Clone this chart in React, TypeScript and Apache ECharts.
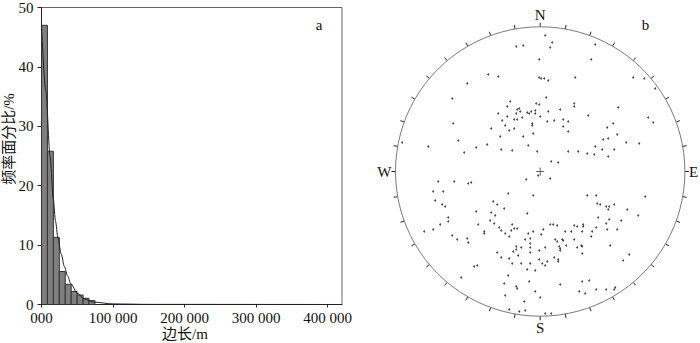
import React, { useEffect, useRef } from 'react';
import * as echarts from 'echarts';

// ---------- data: histogram of side length (a) ----------
const binEdges = [0, 8300, 16600, 24900, 33200, 41500, 49800, 58100, 66400, 74700];
const binPercent = [47.0, 25.8, 11.3, 5.55, 3.4, 2.2, 1.6, 1.05, 0.65];
const fitLength = [0, 6000, 12000, 16500, 19600, 23000, 27500, 32000, 36500, 41000, 50000, 60000, 73000, 100000, 150000, 420000];
const fitPercent = [47, 36, 25, 17.7, 14, 11.2, 8.5, 6.4, 4.8, 3.5, 1.9, 0.9, 0.4, 0.1, 0.02, 0];
const xTicks = [0, 100000, 200000, 300000, 400000];
const yTicks = [0, 10, 20, 30, 40, 50];

// ---------- data: stereonet poles (b), east / north units, net radius 144.7 ----------
const polesNW = [
  [-24, 125], [-17, 126], [-52, 97], [-42, 95], [-73, 88], [-88, 73], [-30, 70], [-4, 68], [-33, 65], [-23, 62],
  [-21, 63], [-20, 60], [-13, 59], [-11, 58], [-9, 60], [-5, 61], [-5, 58], [-42, 58], [-24, 58], [-33, 55],
  [-18, 54], [-26, 52], [-23, 52], [-38, 51], [-87, 48], [-8, 48], [-8, 46], [-35, 46], [-49, 43], [-26, 43],
  [-31, 41], [-7, 38], [-40, 35], [-17, 35], [-82, 31], [-138, 29], [-112, 25], [-53, 27], [-64, 24], [-12, 26],
  [-39, 22], [-28, 21], [-76, 19], [-3, 20],
];
const polesNE = [
  [5, 136], [12, 129], [10, 124], [55, 127], [-1, 112], [51, 112], [-1, 94], [1, 93], [4, 93], [8, 91],
  [35, 94], [93, 94], [104, 93], [115, 83], [6, 74], [-1, 67], [34, 68], [34, 65], [78, 64], [20, 62],
  [8, 60], [0, 55], [48, 56], [108, 54], [7, 50], [14, 51], [23, 52], [28, 50], [113, 49], [23, 45],
  [73, 48], [67, 44], [28, 40], [77, 37], [68, 33], [63, 32], [86, 29], [99, 28], [55, 25], [28, 20],
  [38, 20], [62, 22], [74, 22], [47, 18], [54, 17], [68, 15], [11, 10], [18, 9],
];
const polesSW = [
  [-102, -10], [-86, -10], [-72, -12], [-69, -11], [-14, -8], [-2, -4], [-107, -20], [-97, -20], [-32, -22], [-7, -24],
  [-105, -29], [-47, -30], [-43, -33], [-98, -33], [-95, -35], [-36, -37], [-64, -40], [-49, -41], [-13, -42], [-45, -44],
  [-92, -46], [-92, -50], [-50, -49], [-100, -53], [-62, -53], [-46, -52], [-28, -53], [-41, -56], [-39, -59], [-29, -59],
  [-26, -57], [-23, -57], [-107, -58], [-116, -60], [-56, -60], [-56, -62], [-35, -62], [-7, -60], [-12, -62], [-88, -64],
  [-31, -65], [-83, -68], [-73, -67], [-72, -71], [-15, -68], [-10, -67], [-10, -72], [-24, -75], [-24, -78], [-19, -76],
  [-10, -76], [-27, -80], [-10, -81], [-43, -81], [-39, -86], [-31, -87], [-22, -84], [-28, -92], [-19, -92], [-10, -92],
  [-66, -95], [-63, -94], [-13, -98], [-5, -99], [-32, -104], [-79, -106], [-11, -110], [-36, -112], [-24, -115], [-23, -117],
  [-5, -120], [-35, -124], [-16, -130], [-31, -138], [-21, -140], [-15, -139],
];
const polesSE = [
  [10, -7], [47, -24], [56, -24], [105, -25], [57, -32], [60, -33], [66, -35], [69, -35], [68, -38], [74, -33],
  [87, -38], [98, -44], [58, -46], [69, -48], [66, -52], [81, -49], [10, -53], [13, -53], [17, -54], [34, -54],
  [37, -55], [43, -53], [43, -55], [3, -58], [56, -56], [25, -60], [31, -60], [42, -60], [52, -60], [67, -58],
  [77, -58], [1, -63], [51, -65], [15, -68], [17, -70], [22, -68], [23, -69], [34, -68], [-1, -79], [5, -76],
  [19, -75], [20, -77], [20, -79], [26, -74], [37, -76], [41, -74], [42, -75], [70, -74], [42, -82], [-1, -88],
  [14, -86], [18, -88], [18, -90], [7, -90], [2, -92], [5, -94], [83, -89], [89, -83], [42, -110], [49, -109],
  [20, -113], [39, -120], [45, -122], [56, -118], [66, -118], [75, -116], [74, -118], [0, -126], [5, -142], [11, -142],
];
const netCentre = [[0, 0]];
const compassLabels: Record<number, string> = { 0: 'N', 90: 'E', 180: 'S', 270: 'W' };

const SERIF = '"Liberation Serif", "Times New Roman", "Noto Sans CJK SC", serif';

export default function App() {
  const ref = useRef<HTMLDivElement>(null);

  useEffect(() => {
    const chart = echarts.init(ref.current!, null, { renderer: 'svg' });
    const bars = binPercent.map((v, i) => [binEdges[i], binEdges[i + 1], v]);
    const fit = fitLength.map((x, i) => [x, fitPercent[i]]);
    const poles = [...polesNW, ...polesNE, ...polesSW, ...polesSE];

    chart.setOption({
      animation: false,
      textStyle: { fontFamily: SERIF },
      grid: [
        { left: 41.5, top: 5, width: 300.5, height: 299.5, show: true, borderColor: '#666', borderWidth: 1 },
        { left: 390.2, top: 21.5, width: 300, height: 300 },
      ],
      xAxis: [
        {
          gridIndex: 0, type: 'value', min: 0, max: 420000, interval: xTicks[1] - xTicks[0],
          axisLine: { show: true, onZero: false, lineStyle: { color: '#222', width: 1 } },
          axisTick: { show: true, length: 3, lineStyle: { color: '#222' } },
          axisLabel: {
            margin: 7, fontSize: 15, lineHeight: 13, color: '#111', fontFamily: SERIF, showMaxLabel: false,
            formatter: (v: number) => (xTicks.indexOf(v) < 0 ? '' : v === 0 ? '000' : `${v / 1000} 000`),
          },
          splitLine: { show: false },
        },
        { gridIndex: 1, type: 'value', min: -150, max: 150, show: false },
      ],
      yAxis: [
        {
          gridIndex: 0, type: 'value', min: yTicks[0], max: yTicks[yTicks.length - 1], interval: yTicks[1] - yTicks[0],
          axisLine: { show: true, onZero: false, lineStyle: { color: '#222', width: 1 } },
          axisTick: { show: true, length: 4, lineStyle: { color: '#222' } },
          axisLabel: { margin: 8, fontSize: 15, color: '#111', fontFamily: SERIF },
          splitLine: { show: false },
        },
        { gridIndex: 1, type: 'value', min: -150, max: 150, show: false },
      ],
      polar: { center: [540.2, 171.5], radius: 144.7 },
      angleAxis: {
        type: 'value', min: 0, max: 360, interval: 10, startAngle: 90, clockwise: true,
        axisLine: { show: true, lineStyle: { color: '#7a7a7a', width: 1 } },
        axisTick: { show: true, inside: false, length: 4, lineStyle: { color: '#222', width: 1 } },
        axisLabel: {
          show: true, margin: 4, fontSize: 15, color: '#111', fontFamily: SERIF,
          formatter: (v: number) => compassLabels[v] ?? '',
        },
        splitLine: { show: false },
        splitArea: { show: false },
      },
      radiusAxis: {
        type: 'value', min: 0, max: 1, show: false,
        axisLine: { show: false }, axisTick: { show: false }, axisLabel: { show: false },
        splitLine: { show: false }, splitArea: { show: false },
      },
      series: [
        {
          type: 'custom', xAxisIndex: 0, yAxisIndex: 0,
          data: bars,
          encode: { x: [0, 1], y: 2 },
          renderItem: (params: any, api: any) => {
            const p1 = api.coord([api.value(0), api.value(2)]);
            const p2 = api.coord([api.value(1), 0]);
            return {
              type: 'rect',
              shape: { x: p1[0], y: p1[1], width: p2[0] - p1[0], height: p2[1] - p1[1] },
              style: { fill: '#7f7f7f', stroke: '#333', lineWidth: 1 },
            };
          },
        },
        {
          type: 'line', xAxisIndex: 0, yAxisIndex: 0, data: fit,
          smooth: 0.3, smoothMonotone: 'x', symbol: 'none',
          lineStyle: { color: '#222', width: 1 },
        },
        {
          type: 'scatter', xAxisIndex: 1, yAxisIndex: 1, data: poles,
          symbol: 'circle', symbolSize: 2, itemStyle: { color: '#1a1a1a' },
        },
        {
          type: 'scatter', xAxisIndex: 1, yAxisIndex: 1, data: netCentre,
          symbol: 'path://M5 0 L5 10 M0 5 L10 5', symbolSize: 8,
          itemStyle: { color: 'none', borderColor: '#444', borderWidth: 1 },
        },
      ],
      graphic: [
        {
          type: 'text', x: 8.5, y: 139, rotation: Math.PI / 2,
          style: { text: '频率面分比/%', align: 'center', verticalAlign: 'middle', font: `15px ${SERIF}`, fill: '#111' },
        },
        {
          type: 'text', x: 185, y: 334,
          style: { text: '边长/m', align: 'center', verticalAlign: 'middle', font: `15px ${SERIF}`, lineHeight: 14, fill: '#111' },
        },
        {
          type: 'text', x: 319, y: 24.5,
          style: { text: 'a', align: 'center', verticalAlign: 'middle', font: `15px ${SERIF}`, fill: '#111' },
        },
        {
          type: 'text', x: 645.5, y: 24.5,
          style: { text: 'b', align: 'center', verticalAlign: 'middle', font: `15px ${SERIF}`, fill: '#111' },
        },
      ],
    });

    return () => chart.dispose();
  }, []);

  return <div ref={ref} style={{ position: 'absolute', left: 0, top: 0, width: 700, height: 343 }} />;
}
